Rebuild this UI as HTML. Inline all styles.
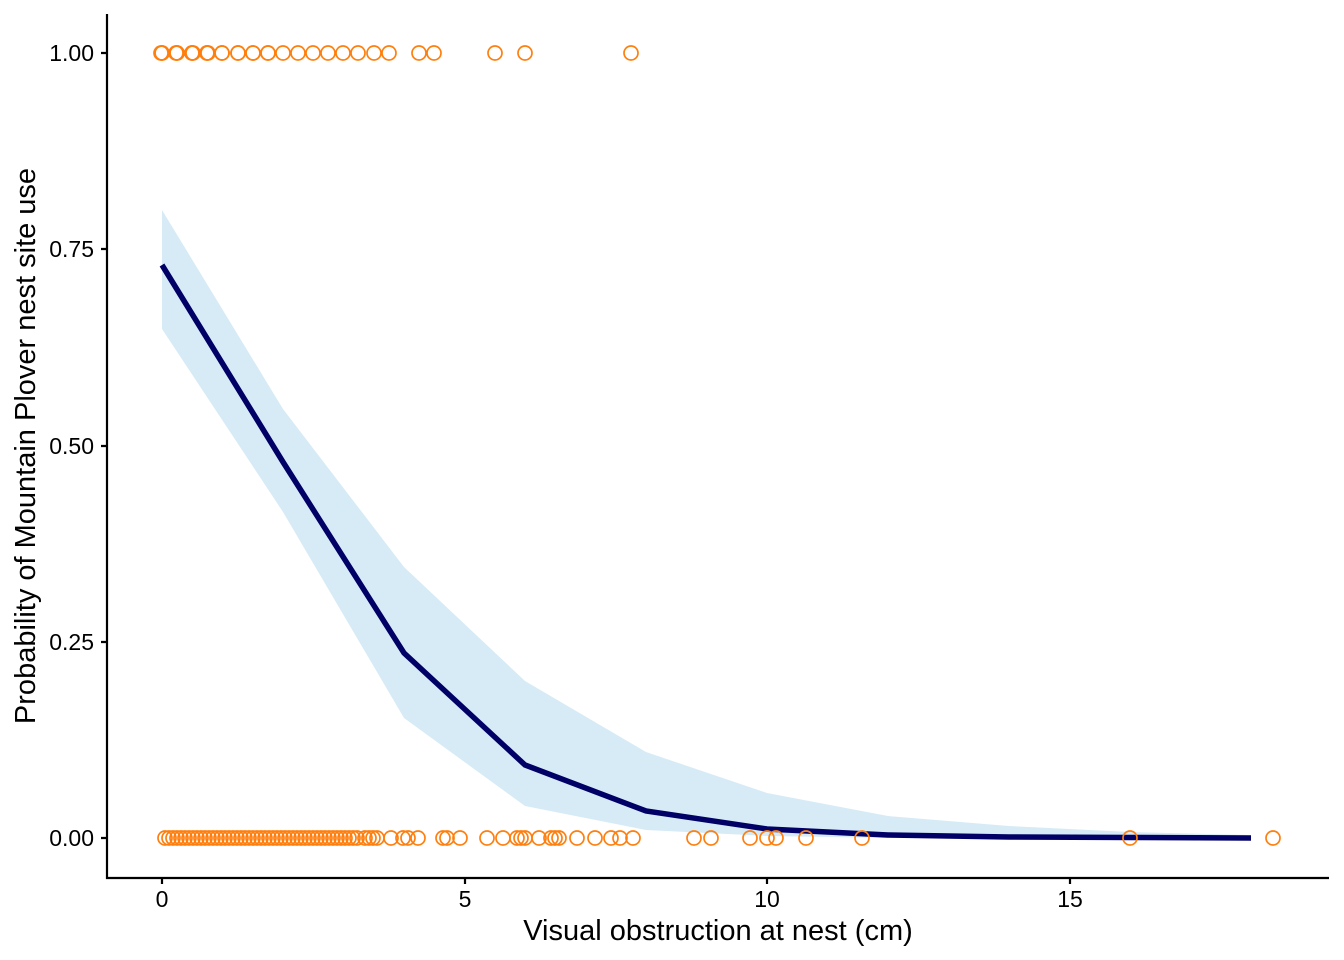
<!DOCTYPE html>
<html><head><meta charset="utf-8"><style>body{margin:0;background:#fff}svg{display:block}text{font-family:"Liberation Sans",Arial,sans-serif}</style></head>
<body>
<svg width="1344" height="960" xmlns="http://www.w3.org/2000/svg">
<rect width="1344" height="960" fill="#fff"/>
<polygon fill="#d7ebf6" points="162,210 283,409 404,567 525,681 646,752 767,793 888,816 1009,826 1130,832 1251,835 1251,838 1130,838 1009,838 888,838 767,836 646,830 525,806 404,718 283,512 162,329"/>
<polyline fill="none" stroke="#000066" stroke-width="5.5" points="162,265 283,462 404,653 525,765 646,811 767,829 888,835 1009,837 1130,837.5 1251,838"/>
<g fill="none" stroke="#ff7f0e" stroke-width="1.7">
<g transform="translate(0,53)">
<circle cx="162" r="7"/><circle cx="177" r="7"/><circle cx="192" r="7"/><circle cx="207" r="7"/><circle cx="222" r="7"/><circle cx="238" r="7"/><circle cx="253" r="7"/><circle cx="268" r="7"/><circle cx="283" r="7"/><circle cx="298" r="7"/><circle cx="313" r="7"/><circle cx="328" r="7"/><circle cx="343" r="7"/><circle cx="358" r="7"/><circle cx="374" r="7"/><circle cx="389" r="7"/><circle cx="419" r="7"/><circle cx="434" r="7"/><circle cx="495" r="7"/><circle cx="525" r="7"/><circle cx="631" r="7"/>
<circle cx="162" r="7"/><circle cx="177" r="7"/><circle cx="192" r="7"/><circle cx="207" r="7"/><circle cx="222" r="7"/><circle cx="238" r="7"/><circle cx="253" r="7"/><circle cx="268" r="7"/><circle cx="161" r="7"/><circle cx="176" r="7"/><circle cx="193" r="7"/><circle cx="208" r="7"/>
</g>
<g transform="translate(0,838)">
<circle cx="165" r="7"/><circle cx="169" r="7"/><circle cx="173" r="7"/><circle cx="177" r="7"/><circle cx="181" r="7"/><circle cx="185" r="7"/><circle cx="189" r="7"/><circle cx="193" r="7"/><circle cx="197" r="7"/><circle cx="201" r="7"/><circle cx="205" r="7"/><circle cx="209" r="7"/><circle cx="213" r="7"/><circle cx="217" r="7"/><circle cx="221" r="7"/><circle cx="225" r="7"/><circle cx="229" r="7"/><circle cx="233" r="7"/><circle cx="237" r="7"/><circle cx="241" r="7"/><circle cx="245" r="7"/><circle cx="249" r="7"/><circle cx="253" r="7"/><circle cx="257" r="7"/><circle cx="261" r="7"/><circle cx="265" r="7"/><circle cx="269" r="7"/><circle cx="273" r="7"/><circle cx="277" r="7"/><circle cx="281" r="7"/><circle cx="285" r="7"/><circle cx="289" r="7"/><circle cx="293" r="7"/><circle cx="297" r="7"/><circle cx="301" r="7"/><circle cx="305" r="7"/><circle cx="309" r="7"/><circle cx="313" r="7"/><circle cx="317" r="7"/><circle cx="321" r="7"/><circle cx="325" r="7"/><circle cx="329" r="7"/><circle cx="333" r="7"/><circle cx="337" r="7"/><circle cx="341" r="7"/><circle cx="345" r="7"/><circle cx="349" r="7"/><circle cx="353" r="7"/><circle cx="357" r="7"/><circle cx="365" r="7"/><circle cx="369" r="7"/><circle cx="373" r="7"/><circle cx="377" r="7"/>
<circle cx="391" r="7"/><circle cx="403" r="7"/><circle cx="408" r="7"/><circle cx="418" r="7"/><circle cx="443" r="7"/><circle cx="447" r="7"/><circle cx="460" r="7"/><circle cx="487" r="7"/><circle cx="503" r="7"/><circle cx="517" r="7"/><circle cx="521" r="7"/><circle cx="525" r="7"/><circle cx="539" r="7"/><circle cx="551" r="7"/><circle cx="555" r="7"/><circle cx="559" r="7"/><circle cx="577" r="7"/><circle cx="595" r="7"/><circle cx="611" r="7"/><circle cx="620" r="7"/><circle cx="633" r="7"/><circle cx="694" r="7"/><circle cx="711" r="7"/><circle cx="750" r="7"/><circle cx="767" r="7"/><circle cx="776" r="7"/><circle cx="806" r="7"/><circle cx="862" r="7"/><circle cx="1130" r="7"/><circle cx="1273" r="7"/>
</g>
</g>
<g stroke="#000" stroke-width="2.2" fill="none">
<path d="M107,14V878H1329"/>
<path d="M101,53H107M101,249H107M101,446H107M101,642H107M101,838H107"/>
<path d="M162,878V884M465,878V884M767,878V884M1070,878V884"/>
</g>
<g font-size="23" fill="#000" text-anchor="end">
<text x="94" y="61">1.00</text><text x="94" y="257">0.75</text><text x="94" y="454">0.50</text><text x="94" y="650">0.25</text><text x="94" y="846">0.00</text>
</g>
<g font-size="23" fill="#000" text-anchor="middle">
<text x="162" y="907">0</text><text x="465" y="907">5</text><text x="767" y="907">10</text><text x="1070" y="907">15</text>
</g>
<text x="718" y="940" font-size="29" text-anchor="middle">Visual obstruction at nest (cm)</text>
<text transform="translate(35,446) rotate(-90)" font-size="29" text-anchor="middle">Probability of Mountain Plover nest site use</text>
</svg>
</body></html>
